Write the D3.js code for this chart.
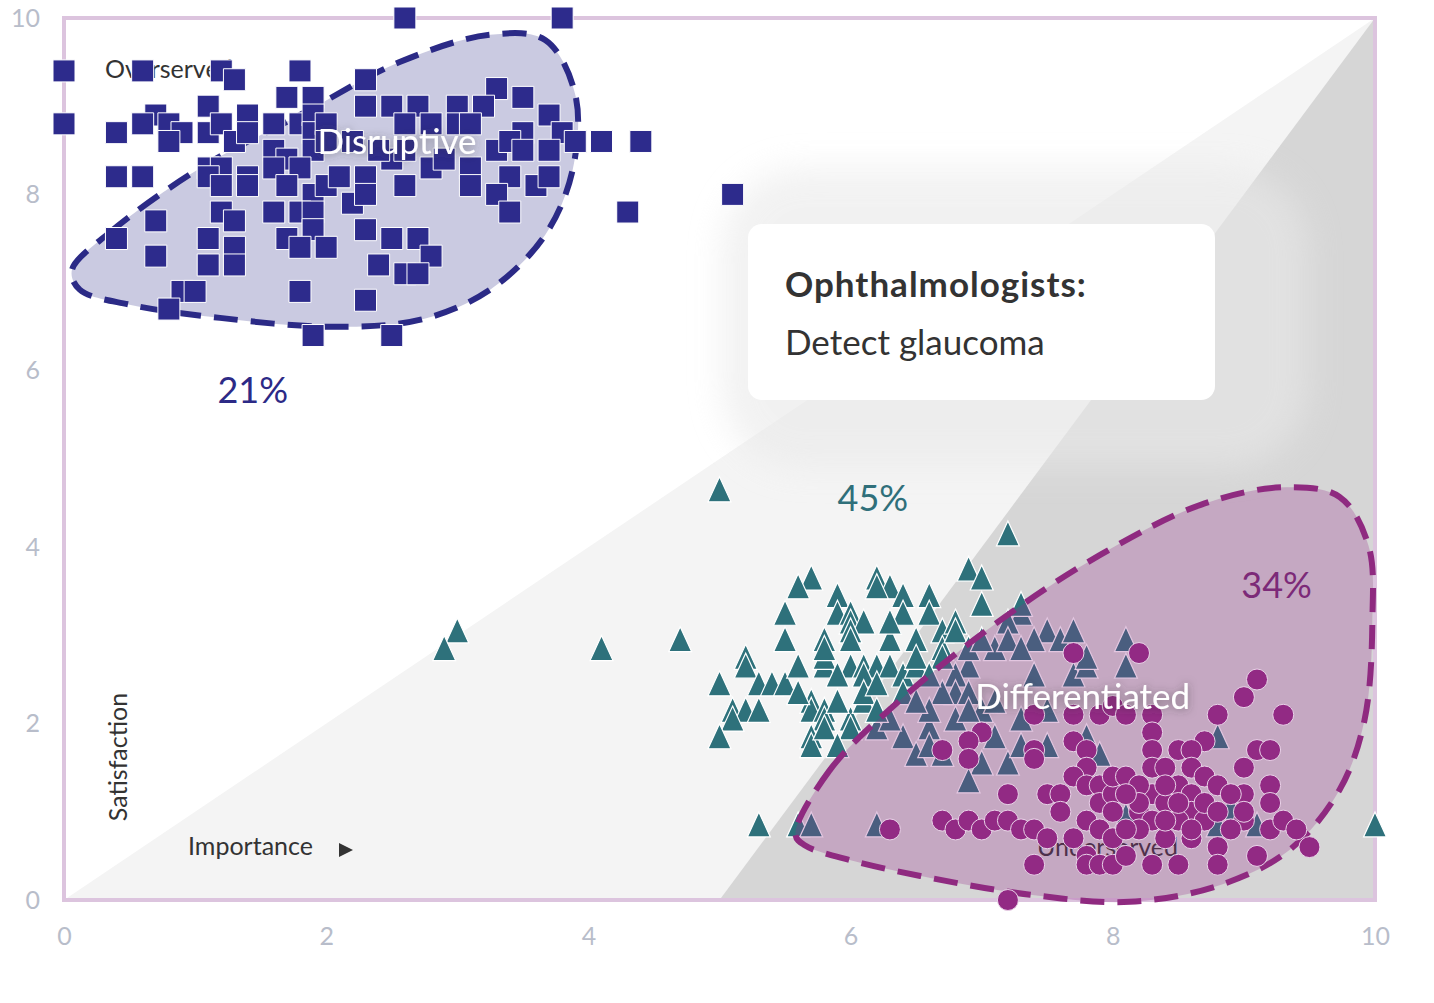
<!DOCTYPE html>
<html>
<head>
<meta charset="utf-8">
<script src="https://cdn.jsdelivr.net/npm/d3@7"></script>
<style>
  body { margin: 0; background: #fff; }
  svg { display: block; font-family: Lato, "Open Sans", sans-serif; }
</style>
</head>
<body>
<div id="chart"></div>
<script>
(function() {
	var width = 1434,
		height = 1003;

	// tick values for both axes
	var ticks = [0, 2, 4, 6, 8, 10];

	// opportunity landscape zones (importance, satisfaction)
	var servedZone = [[0, 0], [10, 10], [10, 0]];
	var underservedZone = [[5, 0], [10, 10], [10, 0]];

	// Disruptive outcomes (squares)
	var disruptive = [
		[0.0, 9.4], [0.0, 8.8], [0.6, 9.4], [1.2, 9.4], [1.3, 9.3], [1.8, 9.4], [1.7, 9.1], [1.9, 9.1],
		[1.1, 9.0], [1.4, 8.9], [0.7, 8.9], [0.6, 8.8], [0.8, 8.8], [0.9, 8.7], [0.8, 8.6], [0.4, 8.7],
		[1.1, 8.7], [1.2, 8.8], [1.3, 8.6], [1.4, 8.7], [1.6, 8.8], [1.8, 8.8], [1.9, 8.9], [1.9, 8.7],
		[1.6, 8.5], [1.7, 8.4], [1.9, 8.5], [1.8, 8.3], [2.0, 8.8], [0.4, 8.2], [0.6, 8.2], [1.1, 8.3],
		[1.2, 8.3], [1.1, 8.2], [1.2, 8.1], [1.4, 8.2], [1.4, 8.1], [1.6, 8.3], [1.7, 8.1], [1.9, 8.0],
		[2.0, 8.1], [2.1, 8.2], [2.2, 7.9], [0.7, 7.7], [1.2, 7.8], [1.3, 7.7], [1.6, 7.8], [1.8, 7.8],
		[1.9, 7.8], [1.9, 7.6], [0.4, 7.5], [1.1, 7.5], [1.3, 7.4], [1.7, 7.5], [1.8, 7.4], [2.0, 7.4],
		[0.7, 7.3], [1.1, 7.2], [1.3, 7.2], [0.9, 6.9], [1.0, 6.9], [0.8, 6.7], [1.8, 6.9], [1.9, 6.4],
		[2.6, 10.0], [3.8, 10.0], [2.3, 9.3], [3.3, 9.2], [3.5, 9.1], [2.3, 9.0], [2.5, 9.0], [2.7, 9.0],
		[3.0, 9.0], [3.2, 9.0], [3.7, 8.9], [2.6, 8.8], [2.8, 8.8], [3.0, 8.8], [3.1, 8.8], [3.5, 8.7],
		[3.8, 8.7], [3.9, 8.6], [4.1, 8.6], [4.4, 8.6], [3.3, 8.5], [3.4, 8.6], [3.5, 8.5], [3.7, 8.5],
		[2.5, 8.4], [2.6, 8.5], [2.8, 8.3], [2.9, 8.4], [3.1, 8.3], [3.1, 8.1], [3.4, 8.2], [3.3, 8.0],
		[3.6, 8.1], [3.7, 8.2], [3.4, 7.8], [2.3, 8.2], [2.3, 8.0], [2.6, 8.1], [4.3, 7.8], [5.1, 8.0],
		[2.3, 7.6], [2.5, 7.5], [2.7, 7.5], [2.8, 7.3], [2.4, 7.2], [2.6, 7.1], [2.7, 7.1], [2.3, 6.8],
		[2.5, 6.4], [2.2, 8.6], [2.4, 8.5], [2.0, 8.6]
	];

	// Table stakes / middle outcomes (triangles)
	var tableStakes = [
		[5.0, 4.6], [7.2, 4.1], [3.0, 3.0], [2.9, 2.8], [4.1, 2.8], [4.7, 2.9], [5.3, 0.8], [5.6, 0.8],
		[5.7, 0.8], [6.2, 0.8], [10.0, 0.8],
		[5.7, 3.6], [5.6, 3.5], [5.9, 3.4], [6.2, 3.6], [6.3, 3.5], [6.2, 3.5], [6.4, 3.4], [6.6, 3.4],
		[6.9, 3.7], [7.0, 3.6], [7.0, 3.3], [7.3, 3.2], [5.5, 3.2], [5.9, 3.2], [6.0, 3.2], [6.0, 3.1],
		[6.1, 3.1], [6.0, 3.0], [6.4, 3.2], [6.6, 3.2], [5.5, 2.9], [5.8, 2.9], [6.0, 2.9], [6.3, 2.9],
		[6.5, 2.9], [6.7, 3.0], [6.8, 3.1], [5.2, 2.7], [5.2, 2.6], [5.0, 2.4], [5.3, 2.4], [5.4, 2.4],
		[5.5, 2.4], [5.6, 2.6], [5.8, 2.6], [5.8, 2.7], [5.8, 2.8], [6.0, 2.6], [6.1, 2.6], [6.2, 2.6],
		[6.3, 2.6], [6.4, 2.5], [6.5, 2.6], [6.5, 2.7], [6.7, 2.8], [6.8, 3.0], [6.1, 2.5], [5.1, 2.1],
		[5.2, 2.1], [5.3, 2.1], [5.1, 2.0], [5.0, 1.8], [5.7, 2.2], [5.7, 2.1], [5.8, 2.1], [5.8, 2.0],
		[5.7, 1.8], [5.7, 1.7], [5.8, 1.9], [6.0, 2.0], [6.0, 1.9], [6.1, 2.2], [6.1, 2.3], [5.9, 1.7],
		[6.2, 1.9], [6.4, 1.8], [6.6, 1.9],
		[7.3, 3.3], [7.2, 3.1], [7.5, 3.0], [7.4, 2.9], [7.6, 2.9], [7.7, 3.0], [8.1, 2.9], [7.1, 2.8],
		[7.2, 2.9], [7.3, 2.8], [6.9, 2.6], [6.8, 2.5], [7.4, 2.5], [7.7, 2.5], [7.8, 2.6], [7.8, 2.7],
		[8.1, 2.6], [6.8, 2.3], [6.9, 2.3], [6.7, 2.3], [6.6, 2.1], [6.8, 2.0], [7.0, 2.1], [7.3, 2.0],
		[7.5, 2.1], [7.8, 1.8], [6.5, 1.6], [6.6, 1.7], [7.0, 1.5], [7.2, 1.5], [7.5, 1.7], [7.9, 1.6],
		[6.9, 1.3], [8.8, 1.8], [8.9, 1.0], [9.1, 0.8], [8.8, 0.8], [6.7, 2.7], [6.9, 2.8], [7.0, 2.9],
		[6.6, 2.5], [6.9, 2.1], [7.1, 2.2], [7.1, 1.8], [7.3, 1.7], [6.3, 2.0], [6.7, 1.6], [8.1, 0.9],
		[5.9, 2.5], [6.2, 2.4], [6.4, 2.3], [5.9, 2.2], [6.2, 2.1], [5.6, 2.3], [6.5, 2.2], [6.3, 3.1]
	];

	// Differentiated outcomes (circles)
	var differentiated = [
		[7.7, 2.8], [7.4, 2.1], [7.7, 2.1], [7.9, 2.1], [7.0, 1.9], [6.9, 1.8], [6.7, 1.7], [6.9, 1.6],
		[7.4, 1.7], [7.4, 1.6], [7.7, 1.8], [7.8, 1.7], [7.8, 1.5], [7.2, 1.2], [7.5, 1.2], [7.6, 1.2],
		[7.7, 1.4], [7.8, 1.3], [7.9, 1.3], [7.6, 1.0], [7.8, 0.9], [7.9, 1.1], [8.0, 1.2], [6.7, 0.9],
		[6.8, 0.8], [6.9, 0.9], [7.0, 0.8], [7.1, 0.9], [7.2, 0.9], [7.3, 0.8], [7.4, 0.8], [7.5, 0.7],
		[7.4, 0.4], [7.2, 0.0], [7.7, 0.7], [7.8, 0.5], [7.8, 0.4], [7.9, 0.4], [8.0, 0.4], [8.0, 1.0],
		[7.9, 0.8], [8.0, 0.7], [6.3, 0.8],
		[8.2, 2.8], [9.1, 2.5], [9.0, 2.3], [8.8, 2.1], [9.3, 2.1], [8.0, 2.2], [8.1, 2.1], [8.3, 2.1],
		[8.3, 1.9], [8.7, 1.8], [9.1, 1.7], [9.2, 1.7], [8.3, 1.7], [8.5, 1.7], [8.6, 1.7], [8.3, 1.5],
		[8.4, 1.5], [8.6, 1.5], [8.7, 1.4], [9.0, 1.5], [8.0, 1.4], [8.1, 1.4], [8.5, 1.3], [8.8, 1.3],
		[9.2, 1.3], [8.3, 1.2], [8.6, 1.2], [9.0, 1.2], [9.2, 1.1], [8.4, 1.1], [8.6, 1.0], [8.7, 0.9],
		[8.2, 1.0], [8.5, 0.9], [8.3, 0.9], [8.2, 0.8], [8.1, 0.8], [9.0, 0.9], [9.2, 0.8], [9.3, 0.9],
		[9.4, 0.8], [9.5, 0.6], [8.8, 0.6], [8.9, 0.8], [9.1, 0.5], [8.3, 0.4], [8.5, 0.4], [8.8, 0.4],
		[8.6, 0.7], [8.4, 0.7], [8.1, 0.5], [9.0, 1.0], [8.2, 1.3], [8.4, 1.3], [8.2, 1.1], [8.5, 1.1],
		[8.7, 1.1], [8.8, 1.0], [8.1, 1.2], [8.9, 1.2], [8.4, 0.9], [8.6, 0.8]
	];

	// hand drawn segment outlines
	var disruptiveOutline = [
		[0.06, 7.14], [0.35, 7.57], [1.04, 8.30], [1.80, 8.90], [2.56, 9.50], [3.25, 9.81], [3.67, 9.75],
		[3.90, 9.13], [3.88, 8.28], [3.67, 7.54], [3.25, 6.92], [2.72, 6.58], [2.03, 6.50], [1.19, 6.60],
		[0.50, 6.75], [0.12, 6.92]
	];
	var differentiatedOutline = [
		[5.58, 0.74], [5.84, 1.47], [6.38, 2.27], [7.14, 3.17], [7.90, 3.91], [8.67, 4.48], [9.31, 4.68],
		[9.73, 4.57], [9.95, 4.02], [9.98, 3.17], [9.92, 2.04], [9.73, 1.25], [9.35, 0.57], [8.82, 0.17],
		[8.13, -0.02], [7.37, 0.06], [6.61, 0.25], [6.00, 0.45], [5.65, 0.62]
	];

	// segment names, shares and where they sit
	var segmentNames = ["Disruptive", "Differentiated"];
	var segmentNamePos = [[2.54, 8.46], [7.77, 2.17]];
	var shareLabels = ["21%", "45%", "34%"];
	var sharePos = [[1.44, 5.63], [6.17, 4.41], [9.25, 3.42]];
	var shareColors = ["#2c2a86", "#2f6f7a", "#7c2a78"];

	var x = d3.scaleLinear().domain([0, 10]).range([64, 1375]);
	var y = d3.scaleLinear().domain([0, 10]).range([900, 18]);

	var svg = d3.select("#chart")
		.append("svg")
		.attr("width", width)
		.attr("height", height);

	var defs = svg.append("defs");
	defs.append("filter").attr("id", "halo")
		.attr("x", "-30%").attr("y", "-50%").attr("width", "160%").attr("height", "200%")
		.append("feGaussianBlur").attr("stdDeviation", 16);
	var glow = defs.append("filter").attr("id", "glow")
		.attr("x", "-20%").attr("y", "-40%").attr("width", "140%").attr("height", "180%");
	glow.append("feDropShadow")
		.attr("dx", 0).attr("dy", 1).attr("stdDeviation", 4)
		.attr("flood-color", "#3a3a3a").attr("flood-opacity", 0.55);

	var area = d3.line().x(function(d) { return x(d[0]); }).y(function(d) { return y(d[1]); });
	var blob = d3.line()
		.x(function(d) { return x(d[0]); })
		.y(function(d) { return y(d[1]); })
		.curve(d3.curveCatmullRomClosed.alpha(0.5));

	// tall triangle marker, point sits near its centroid
	var triangle = "M0,-17.5L11.5,7.5L-11.5,7.5Z";

	// background zones
	svg.append("rect")
		.attr("x", x(0)).attr("y", y(10))
		.attr("width", x(10) - x(0)).attr("height", y(0) - y(10))
		.attr("fill", "#fff");
	svg.append("path").attr("d", area(servedZone) + "Z").attr("fill", "#f4f4f4");
	svg.append("path").attr("d", area(underservedZone) + "Z").attr("fill", "#d6d6d6");

	// soft halo behind the callout
	svg.append("rect")
		.attr("x", 722).attr("y", 168).attr("width", 586).attr("height", 300).attr("rx", 80)
		.attr("fill", "#e9e9e9").attr("opacity", 0.6)
		.attr("filter", "url(#halo)");

	// plot frame
	svg.append("rect")
		.attr("x", x(0)).attr("y", y(10))
		.attr("width", x(10) - x(0)).attr("height", y(0) - y(10))
		.attr("fill", "none")
		.attr("stroke", "#dcc4de")
		.attr("stroke-width", 4);

	// axes
	var xAxis = svg.append("g")
		.attr("transform", "translate(0," + y(0) + ")")
		.call(d3.axisBottom(x).tickValues(ticks).tickSize(0).tickPadding(27));
	var yAxis = svg.append("g")
		.attr("transform", "translate(" + x(0) + ",0)")
		.call(d3.axisLeft(y).tickValues(ticks).tickSize(0).tickPadding(24));
	[xAxis, yAxis].forEach(function(g) {
		g.select(".domain").remove();
		g.selectAll("text")
			.attr("fill", "#b8bdca")
			.style("font-size", "25px")
			.style("font-family", "Lato, sans-serif");
	});

	// zone names and axis titles
	svg.append("text").attr("x", 105).attr("y", 78)
		.attr("fill", "#333").style("font-size", "25px").text("Overserved");
	svg.append("text").attr("x", 1037).attr("y", 856)
		.attr("fill", "#333").style("font-size", "25px").text("Underserved");
	svg.append("text").attr("x", 188).attr("y", 855)
		.attr("fill", "#333").style("font-size", "25px").text("Importance");
	svg.append("path")
		.attr("d", "M339,843L353,850L339,857Z")
		.attr("fill", "#333");
	svg.append("text")
		.attr("transform", "translate(127,757) rotate(-90)")
		.attr("text-anchor", "middle")
		.attr("fill", "#333").style("font-size", "25px").text("Satisfaction");

	// Disruptive segment sits under its squares
	svg.append("path")
		.attr("d", blob(disruptiveOutline))
		.attr("fill", "#2c2a86").attr("fill-opacity", 0.25)
		.attr("stroke", "#2b2a86").attr("stroke-width", 6)
		.attr("stroke-dasharray", "24 13");

	svg.selectAll(".sq")
		.data(disruptive)
		.enter().append("path")
		.attr("class", "sq")
		.attr("transform", function(d) { return "translate(" + x(d[0]) + "," + y(d[1]) + ")"; })
		.attr("d", d3.symbol(d3.symbolSquare).size(484))
		.attr("fill", "#2d2b8c")
		.attr("stroke", "#fff").attr("stroke-width", 1);

	svg.selectAll(".tri")
		.data(tableStakes)
		.enter().append("path")
		.attr("class", "tri")
		.attr("transform", function(d) { return "translate(" + x(d[0]) + "," + y(d[1]) + ")"; })
		.attr("d", triangle)
		.attr("fill", "#2e717b")
		.attr("stroke", "#fff").attr("stroke-width", 1.2);

	// Differentiated segment tints the triangles beneath it
	svg.append("path")
		.attr("d", blob(differentiatedOutline))
		.attr("fill", "#962e8e").attr("fill-opacity", 0.27)
		.attr("stroke", "#8f2a80").attr("stroke-width", 6)
		.attr("stroke-dasharray", "24 13");

	svg.selectAll(".dot")
		.data(differentiated)
		.enter().append("circle")
		.attr("class", "dot")
		.attr("cx", function(d) { return x(d[0]); })
		.attr("cy", function(d) { return y(d[1]); })
		.attr("r", 10.5)
		.attr("fill", "#922a84")
		.attr("stroke", "#e9d3e8").attr("stroke-width", 1);

	// segment names
	svg.selectAll(".seg")
		.data(segmentNames)
		.enter().append("text")
		.attr("class", "seg")
		.attr("x", function(d, i) { return x(segmentNamePos[i][0]); })
		.attr("y", function(d, i) { return y(segmentNamePos[i][1]); })
		.attr("text-anchor", "middle")
		.attr("fill", "#fff")
		.attr("filter", "url(#glow)")
		.style("font-size", "35px")
		.text(function(d) { return d; });

	// segment shares
	svg.selectAll(".share")
		.data(shareLabels)
		.enter().append("text")
		.attr("class", "share")
		.attr("x", function(d, i) { return x(sharePos[i][0]); })
		.attr("y", function(d, i) { return y(sharePos[i][1]); })
		.attr("text-anchor", "middle")
		.attr("fill", function(d, i) { return shareColors[i]; })
		.style("font-size", "36px")
		.text(function(d) { return d; });

	// callout
	svg.append("rect")
		.attr("x", 748).attr("y", 224).attr("width", 467).attr("height", 176).attr("rx", 14)
		.attr("fill", "#fff");
	svg.append("text").attr("x", 785).attr("y", 297)
		.attr("fill", "#333").style("font-size", "35px").style("font-weight", 700)
		.style("letter-spacing", "1px")
		.text("Ophthalmologists:");
	svg.append("text").attr("x", 785).attr("y", 355)
		.attr("fill", "#333").style("font-size", "35px")
		.text("Detect glaucoma");
}) ();
</script>
</body>
</html>
